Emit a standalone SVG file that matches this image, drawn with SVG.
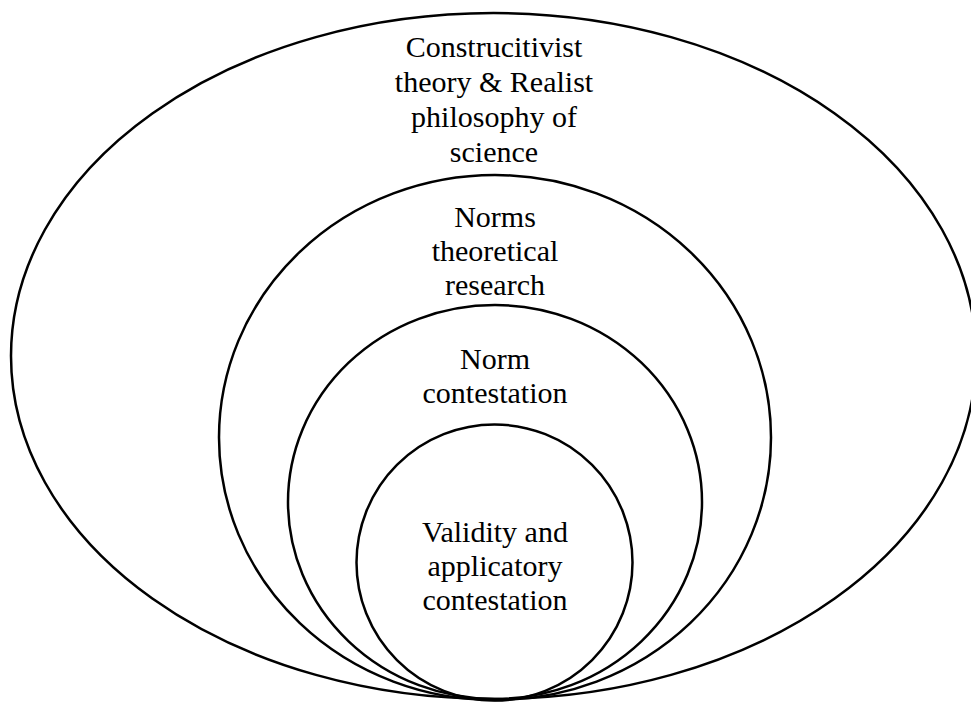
<svg xmlns="http://www.w3.org/2000/svg" width="971" height="702" viewBox="0 0 971 702">
<style>
.ring{fill:none;stroke:#000;stroke-width:2.5}
.lbl{font-size:30px;fill:#000;text-anchor:middle}
</style>
<rect width="971" height="702" fill="#fff"/>
<g font-family="'Liberation Serif', 'Times New Roman', 'DejaVu Serif', serif">
<g id="outer">
<ellipse class="ring" cx="493.5" cy="356" rx="482.5" ry="343"/>
<text class="lbl" x="494" y="57">Construcitivist</text>
<text class="lbl" x="494" y="92">theory &amp; Realist</text>
<text class="lbl" x="494" y="127">philosophy of</text>
<text class="lbl" x="494" y="162">science</text>
</g>
<g id="norms-research">
<ellipse class="ring" cx="495" cy="437.5" rx="276" ry="262.5"/>
<text class="lbl" x="495" y="227">Norms</text>
<text class="lbl" x="495" y="261">theoretical</text>
<text class="lbl" x="495" y="295">research</text>
</g>
<g id="norm-contestation">
<ellipse class="ring" cx="495" cy="502" rx="207" ry="197"/>
<text class="lbl" x="495" y="369">Norm</text>
<text class="lbl" x="495" y="403">contestation</text>
</g>
<g id="validity">
<circle class="ring" cx="494.5" cy="562.5" r="138"/>
<text class="lbl" x="495" y="542">Validity and</text>
<text class="lbl" x="495" y="576">applicatory</text>
<text class="lbl" x="495" y="610">contestation</text>
</g>
</g>
<g id="connectors"></g>
</svg>
